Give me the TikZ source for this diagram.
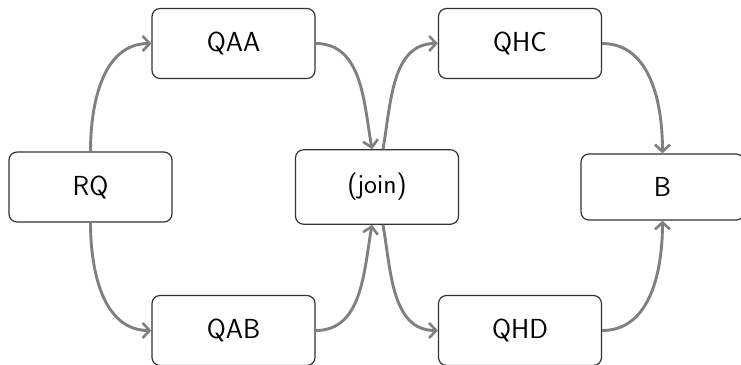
\documentclass[tikz,border=0pt]{standalone}
\usepackage{fontspec}
\usetikzlibrary{arrows.meta}
\tikzset{
  box/.style={draw=black!80, line width=1.2pt, rounded corners=8pt, fill=white,
    minimum width=163pt, inner xsep=4pt, inner ysep=23.5pt,
    font=\sffamily\fontsize{27.5}{33}\selectfont},
  link/.style={draw=black!50, line width=2.9pt,
    -{Straight Barb[length=7pt,width=15pt,line width=2.6pt]}}
}
\begin{document}
\begin{tikzpicture}[x=1pt,y=-1pt]
\useasboundingbox (0,0) rectangle (741,364);
\node[box] (RQ)   at (90.5,187)  {RQ};
\node[box] (QAA)  at (233.5,43.5) {QAA};
\node[box] (QAB)  at (233.5,330.5) {QAB};
\node[box] (join) at (377,187)   {(join)};
\node[box] (QHC)  at (520,43.5)  {QHC};
\node[box] (QHD)  at (520,330.5) {QHD};
\node[box] (B)    at (662.5,187) {B};
\draw[link] (RQ.north) to[out=90,in=180] (QAA.west);
\draw[link] (RQ.south) to[out=-90,in=180] (QAB.west);
\draw[link] (QAA.east) to[out=0,in=100] ([xshift=-5pt]join.north);
\draw[link] (QAB.east) to[out=0,in=-100] ([xshift=-5pt]join.south);
\draw[link] ([xshift=6pt]join.north) to[out=80,in=180] (QHC.west);
\draw[link] ([xshift=6pt]join.south) to[out=-80,in=180] (QHD.west);
\draw[link] (QHC.east) to[out=0,in=90] (B.north);
\draw[link] (QHD.east) to[out=0,in=-90] (B.south);
\end{tikzpicture}
\end{document}
